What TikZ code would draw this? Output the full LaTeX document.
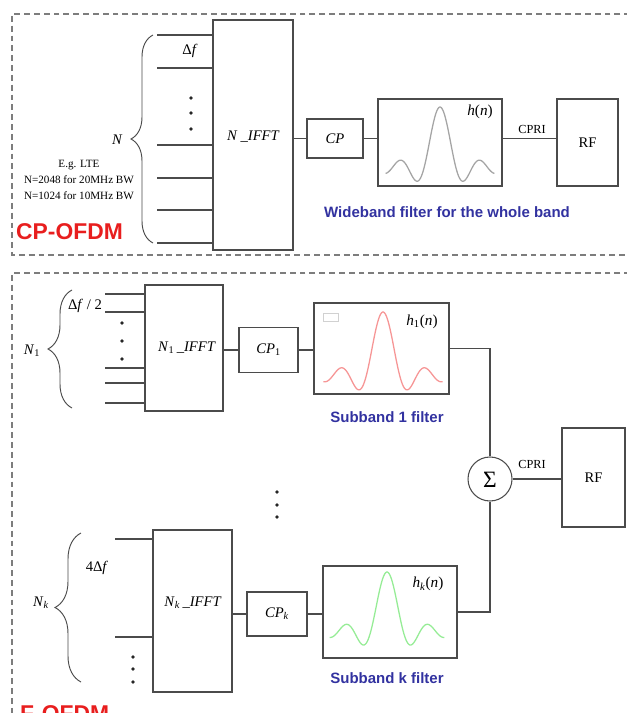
\documentclass[tikz,border=0pt]{standalone}
\usepackage{fontspec}
\setmainfont{Liberation Serif}
\setsansfont{Liberation Sans}
\usetikzlibrary{decorations.pathreplacing}
\definecolor{ln}{RGB}{75,75,75}
\definecolor{dashc}{RGB}{125,125,125}
\definecolor{bluet}{RGB}{50,50,160}
\definecolor{redt}{RGB}{232,30,30}
\definecolor{sincg}{RGB}{165,165,165}
\definecolor{sincr}{RGB}{246,150,150}
\definecolor{sincgr}{RGB}{150,236,150}
\tikzset{
  box/.style={draw=ln, line width=0.9pt, inner sep=0pt, outer sep=0pt},
  wh/.style 2 args={minimum width=#1*0.03cm, minimum height=#2*0.03cm},
  wire/.style={draw=ln, line width=0.9pt},
  frame/.style={draw=dashc, line width=1pt, dash pattern=on 5pt off 3.4pt},
  lbl/.style={inner sep=0pt, font=\fontsize{12.5}{14}\selectfont\itshape},
  small/.style={inner sep=0pt, font=\fontsize{10.5}{12}\selectfont},
  note/.style={inner sep=0pt, align=center, font=\fontsize{9.5}{14}\selectfont},
  bluelbl/.style={inner sep=0pt, text=bluet, font=\fontsize{12.8}{15}\selectfont\sffamily\bfseries},
  redlbl/.style={inner sep=0pt, text=redt, font=\fontsize{19.5}{22}\selectfont\sffamily\bfseries},
  brc/.style={draw=ln, line width=0.8pt, decorate, decoration={brace, amplitude=#1*0.03cm}},
  dotn/.style={circle, fill=black!85, inner sep=0pt, minimum size=3.2pt},
  sinc/.style={line width=1.1pt, smooth}
}
\begin{document}
\begin{tikzpicture}[x=0.03cm, y=-0.03cm]
\useasboundingbox (0,0) rectangle (626,713);

% ---------------- dashed frames ----------------
\draw[frame] (640,14) -- (12,14) -- (12,255) -- (640,255);
\draw[frame] (640,273) -- (12,273) -- (12,730);

% ================= CP-OFDM =================
\node[box, wh={80}{230}] (ifft) at (253,135) {};
\node[lbl] (ifftl) at (253,137) {N \_IFFT};
\node[box, wh={56}{39}] (cp) at (335,138.5) {};
\node[lbl] (cpl) at (cp.center) {CP};
\node[box, wh={124}{87}] (f0) at (440,142.5) {};
\node[box, wh={61}{87}] (rf) at (587.5,142.5) {};
\node[inner sep=0pt, font=\fontsize{12.5}{14}\selectfont] (rfl) at (rf.center) {RF};

\draw[sincg, sinc] plot[domain=-3.4:3.4, samples=120] ({440+16*\x}, {168-61*sin(180*\x)/(pi*\x)});
\node[inner sep=0pt, font=\fontsize{13}{14}\selectfont] (hl) at (480,112) {\textit{h}(\textit{n})};

\draw[wire] (ifft.east |- cp.west) -- (cp.west);
\draw[wire] (cp.east) -- (cp.east -| f0.west);
\draw[wire] (f0.east |- cp.east) -- (rf.west |- cp.east);
\node[small] (cpri0) at (532,129) {CPRI};

% input lines
\foreach \i/\yy in {1/35, 2/68, 3/145, 4/178, 5/210, 6/243} {
  \coordinate (t\i) at (157,\yy);
  \draw[wire] (t\i) -- (t\i -| ifft.west);
}
\draw[brc=22] (153,243) -- (153,35);
\node[lbl] (nl) at (117,140) {N};
\node[inner sep=0pt, font=\fontsize{12.5}{14}\selectfont] (df) at (190,51) {Δ\textit{f}};
\foreach \yy in {98,113,129} \node[dotn] at (191,\yy) {};
\node[note] (eg) at (79,180) {E.g. LTE\\N=2048 for 20MHz BW\\N=1024 for 10MHz BW};
\node[bluelbl] (wb) at (447,212) {Wideband filter for the whole band};
\node[redlbl, anchor=north west] (cpofdm) at (16,223) {CP-OFDM};

% ================= F-OFDM =================
% subband 1
\node[box, wh={78}{126}] (ifft1) at (184,348) {};
\node[inner sep=0pt, font=\fontsize{12.5}{14}\selectfont] (ifft1l) at (187,348) {\textit{N}\textsubscript{1}\,\textit{\_IFFT}};
\node[box, wh={59}{45}] (cp1) at (268.5,350) {};
\node[inner sep=0pt, font=\fontsize{12.5}{14}\selectfont] (cp1l) at (cp1.center) {\textit{CP}\textsubscript{1}};
\node[box, wh={135}{91}] (f1) at (381.5,348.5) {};
\draw[sincr, sinc] plot[domain=-3.55:3.55, samples=120] ({383+16.8*\x}, {376-64*sin(180*\x)/(pi*\x)});
\draw[black!18, line width=0.6pt] (323,313) rectangle (338,321);
\node[inner sep=0pt, font=\fontsize{13}{14}\selectfont] (h1l) at (422,322) {\textit{h}\textsubscript{1}(\textit{n})};
\node[bluelbl] (sb1) at (387,417) {Subband 1 filter};

\draw[wire] (ifft1.east |- cp1.west) -- (cp1.west);
\draw[wire] (cp1.east) -- (cp1.east -| f1.west);

\foreach \i/\yy in {1/294, 2/312, 3/368, 4/383, 5/403} {
  \coordinate (u\i) at (105,\yy);
  \draw[wire] (u\i) -- (u\i -| ifft1.west);
}
\draw[brc=24] (72,408) -- (72,290);
\node[inner sep=0pt, font=\fontsize{12.5}{14}\selectfont] (n1l) at (32,351) {\textit{N}\textsubscript{1}};
\node[inner sep=0pt, font=\fontsize{12.5}{14}\selectfont] (df2) at (85,306) {Δ\textit{f} / 2};
\foreach \yy in {323,341,359} \node[dotn] at (122,\yy) {};

% summation and RF
\node[circle, draw=ln, line width=0.9pt, minimum size=44*0.03cm, inner sep=0pt] (sig) at (490,479) {};
\node[inner sep=0pt, font=\fontsize{20}{22}\selectfont] (sigl) at (490,480) {Σ};
\node[box, wh={63}{99}] (rf2) at (593.5,477.5) {};
\node[inner sep=0pt, font=\fontsize{12.5}{14}\selectfont] (rf2l) at (rf2.center) {RF};
\draw[wire] (sig.east) -- (sig.east -| rf2.west);
\node[small] (cpri1) at (532,464) {CPRI};
\draw[wire] (f1.east) -| (sig.north);

\foreach \yy in {492,505,517} \node[dotn] at (277,\yy) {};

% subband k
\node[box, wh={79}{162}] (ifftk) at (192.5,611) {};
\node[inner sep=0pt, font=\fontsize{12.5}{14}\selectfont] (ifftkl) at (193,603) {\textit{N}\textsubscript{\textit{k}}\,\textit{\_IFFT}};
\node[box, wh={60}{44}] (cpk) at (277,614) {};
\node[inner sep=0pt, font=\fontsize{12.5}{14}\selectfont] (cpkl) at (cpk.center) {\textit{CP}\textsubscript{\textit{k}}};
\node[box, wh={134}{92}] (fk) at (390,612) {};
\draw[sincgr, sinc] plot[domain=-3.5:3.5, samples=120] ({387+16.4*\x}, {632-60*sin(180*\x)/(pi*\x)});
\node[inner sep=0pt, font=\fontsize{13}{14}\selectfont] (hkl) at (428,584) {\textit{h}\textsubscript{\textit{k}}(\textit{n})};
\node[bluelbl] (sbk) at (387,678) {Subband k filter};

\draw[wire] (ifftk.east |- cpk.west) -- (cpk.west);
\draw[wire] (cpk.east) -- (cpk.east -| fk.west);
\draw[wire] (fk.east) -| (sig.south);

\foreach \i/\yy in {1/539, 2/637} {
  \coordinate (v\i) at (115,\yy);
  \draw[wire] (v\i) -- (v\i -| ifftk.west);
}
\draw[brc=26] (81,682) -- (81,533);
\node[inner sep=0pt, font=\fontsize{12.5}{14}\selectfont] (nkl) at (41,603) {\textit{N}\textsubscript{\textit{k}}};
\node[inner sep=0pt, font=\fontsize{12.5}{14}\selectfont] (df4) at (97,568) {4Δ\textit{f}};
\foreach \yy in {657,669,682} \node[dotn] at (133,\yy) {};

\node[redlbl, anchor=north west] (fofdm) at (20,705) {F-OFDM};
\end{tikzpicture}
\end{document}
